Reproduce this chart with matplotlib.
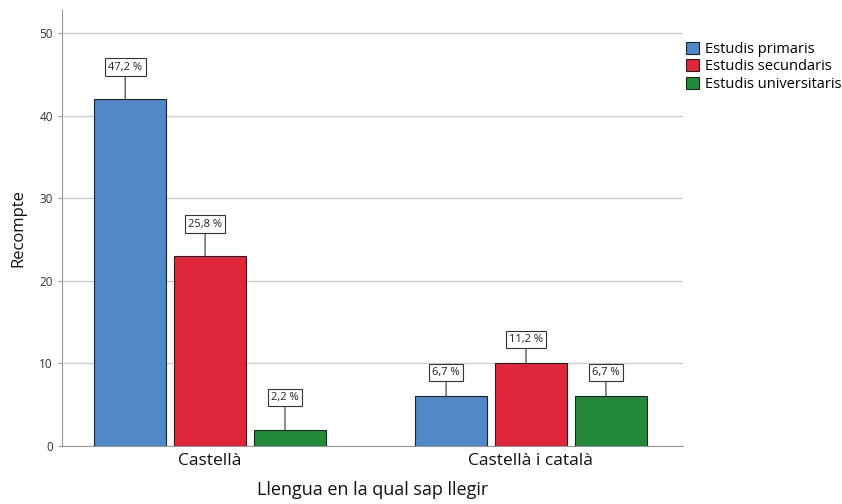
import numpy as np
import matplotlib.pyplot as plt

categories = ["Castellà", "Castellà i català"]
series = ["Estudis primaris", "Estudis secundaris", "Estudis universitaris"]
counts = [
    [42, 6],   # primaris
    [23, 10],  # secundaris
    [2, 6],    # universitaris
]
pct_labels = [
    ["47,2 %", "6,7 %"],
    ["25,8 %", "11,2 %"],
    ["2,2 %", "6,7 %"],
]
colors = ["#5088C8", "#E0263A", "#238A3C"]

plt.rcParams["font.family"] = ["Open Sans", "DejaVu Sans"]

fig = plt.figure(figsize=(8.42, 5.04), dpi=100)
ax = fig.add_axes([0.0736, 0.115, 0.7375, 0.865])

x = np.array([0.0, 1.0])
width = 0.224
step = 0.249

for i, (name, vals, col) in enumerate(zip(series, counts, colors)):
    xs = x + (i - 1) * step
    ax.bar(xs, vals, width, color=col, edgecolor="#222222", linewidth=0.8,
           label=name, zorder=3)
    for j, (xi, v) in enumerate(zip(xs, vals)):
        off = 32 if j == 0 else 24
        ax.annotate(pct_labels[i][j], xy=(xi - 0.015, v), xytext=(0, off),
                    textcoords="offset pixels",
                    ha="center", va="center", fontsize=8, color="#222222",
                    bbox=dict(boxstyle="square,pad=0.3", fc="white",
                              ec="#333333", lw=0.8),
                    arrowprops=dict(arrowstyle="-", color="#333333", lw=0.8,
                                    shrinkA=0, shrinkB=0),
                    zorder=4)

ax.set_xlim(-0.461, 1.474)
ax.set_ylim(0, 52.8)
ax.set_yticks([0, 10, 20, 30, 40, 50])
ax.yaxis.grid(True, color="#CCCCCC", linewidth=1.0, zorder=0)
ax.set_axisbelow(True)
ax.set_xticks(x)
ax.set_xticklabels(categories, fontsize=12.5, color="#111111")
ax.tick_params(axis="x", length=0, pad=5)
ax.tick_params(axis="y", length=3, color="#999999", labelsize=8.5,
               labelcolor="#333333")
for s in ["top", "right"]:
    ax.spines[s].set_visible(False)
ax.spines["left"].set_color("#999999")
ax.spines["bottom"].set_color("#999999")

ax.set_ylabel("Recompte", fontsize=12, color="#111111", labelpad=9)
ax.set_xlabel("Llengua en la qual sap llegir", fontsize=13, color="#111111",
              labelpad=9)

ax.legend(loc="upper left", bbox_to_anchor=(0.995, 0.94), frameon=False,
          fontsize=10.5, handlelength=0.9, handleheight=0.9,
          handletextpad=0.4, labelspacing=0.15, borderaxespad=0)

fig.savefig("out.png", dpi=100)
